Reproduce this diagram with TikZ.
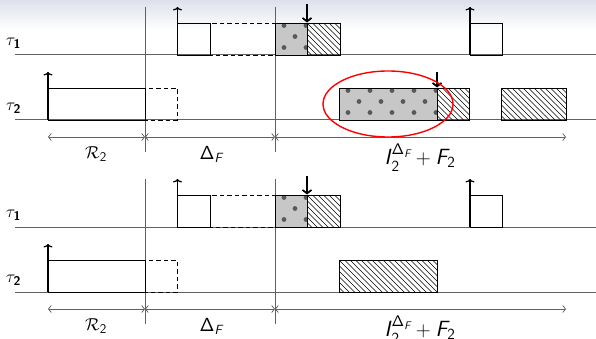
\documentclass[tikz,border=0pt]{standalone}
\usepackage{amsmath}
\usetikzlibrary{arrows.meta,shapes.geometric}
\newcommand\sfi[1]{\text{\sffamily\itshape #1}}
\newcommand\sfn[1]{\text{\sffamily #1}}
\newcommand\dotbox[4]{%
  \begin{scope}
    \clip (#1,#2) rectangle (#3,#4);
    \fill[dotfill] (#1,#2) rectangle (#3,#4);
    \foreach \k in {0,...,6}{
      \fill[dotc] ({#1+9+22*\k},{#2+2.5}) circle[radius=2.4pt];
      \fill[dotc] ({#1-2+22*\k},{#2+13.5}) circle[radius=2.4pt];
      \fill[dotc] ({#1+9+22*\k},{#2+24.5}) circle[radius=2.4pt];
    }
  \end{scope}
  \draw[jobbox] (#1,#2) rectangle (#3,#4);}
\newcommand\hatchbox[4]{%
  \begin{scope}
    \clip (#1,#2) rectangle (#3,#4);
    \foreach \k in {-8,...,20}
      \draw[hatchline] ({#1+5.5*\k},#2) -- ++(40,40);
  \end{scope}
  \draw[jobbox] (#1,#2) rectangle (#3,#4);}
\newcommand\panel{%
  % axes
  \draw[axisline] (15,55) -- (596,55);
  \draw[axisline] (15,120) -- (596,120);
  % separators
  \draw[sepline] (145,7) -- (145,152);
  \draw[sepline] (275,7) -- (275,152);
  % tau1
  \draw[dashbox] (210,23) rectangle (275,55);
  \draw[jobbox] (177.5,23) rectangle (210,55);
  \dotbox{275}{23}{307}{55}
  \hatchbox{307}{23}{340}{55}
  \draw[rel] (177.5,55) -- (177.5,7);
  \draw[dl] (307,4) -- (307,22.5);
  \draw[jobbox] (470,23) rectangle (502,55);
  \draw[rel] (470,55) -- (470,7);
  % tau2
  \draw[dashbox] (145,88) rectangle (177,120);
  \draw[jobbox] (48,88) rectangle (145,120);
  \draw[rel] (48,120) -- (48,72);
  % labels
  \node[tlbl, anchor=west] (t1) at (6,43) {$\tau_{\textbf{\sffamily 1}}$};
  \node[tlbl, anchor=west] (t2) at (6,108.5) {$\tau_{\textbf{\sffamily 2}}$};
  % dimensions
  \coordinate (d0) at (48,137);
  \coordinate (d1) at (145,137);
  \coordinate (d2) at (275,137);
  \coordinate (d3) at (566,137);
  \draw[dim] (d0) -- (d1);
  \draw[dim] (d1) -- (d2);
  \draw[dim] (d2) -- (d3);
  \node[dlbl] (lr) at (96,154.5) {$\mathcal{R}_{\sfn{2}}$};
  \node[dlbl] (ld) at (211,154.5) {\textsf{Δ}$_{\sfi{F}}$};
  \node[blbl] (li) at (420,157.5) {\textsf{\itshape I}$_{\sfn{2}}^{\sfn{Δ}_{\sfi{F}}}+\sfi{F}_{\sfn{2}}$};
}
\begin{document}
\begin{tikzpicture}[x=1pt,y=-1pt,
  axisline/.style={draw=black!62, line width=1pt},
  sepline/.style={draw=black!62, line width=1pt},
  jobbox/.style={draw=black, line width=0.9pt},
  dashbox/.style={draw=black, line width=0.9pt, dash pattern=on 4.5pt off 3pt},
  hatchline/.style={draw=black, line width=0.65pt},
  dotfill/.style={fill=black!22},
  dotc/.style={fill=black!65},
  rel/.style={draw=black, line width=1.3pt, -{To[length=3.5pt,width=9pt]}},
  dl/.style={draw=black, line width=1.9pt, -{Straight Barb[length=3.5pt,width=9pt,line width=1.7pt]}},
  dim/.style={draw=black!62, line width=0.75pt, {Straight Barb[length=2.8pt,width=7pt]}-{Straight Barb[length=2.8pt,width=7pt]}},
  tlbl/.style={font=\fontsize{18}{20}\selectfont, inner sep=0pt},
  dlbl/.style={font=\fontsize{19}{21}\selectfont, inner sep=0pt},
  blbl/.style={font=\fontsize{22}{24}\selectfont, inner sep=0pt}
]
\useasboundingbox (0,0) rectangle (596,339);
\shade[top color={rgb,255:red,222;green,225;blue,236}, bottom color=white] (0,0) rectangle (596,30);
% top panel
\panel
\dotbox{339}{88}{437}{120}
\hatchbox{437}{88}{469}{120}
\draw[dl] (437,72) -- (437,87.5);
\hatchbox{501}{88}{566}{120}
\node[draw=red, line width=1.4pt, ellipse, minimum width=130pt, minimum height=66pt, inner sep=0pt] (hl) at (388,104) {};
% bottom panel
\begin{scope}[shift={(0,172)}]
\panel
\hatchbox{339}{88}{437}{120}
\end{scope}
\end{tikzpicture}
\end{document}
